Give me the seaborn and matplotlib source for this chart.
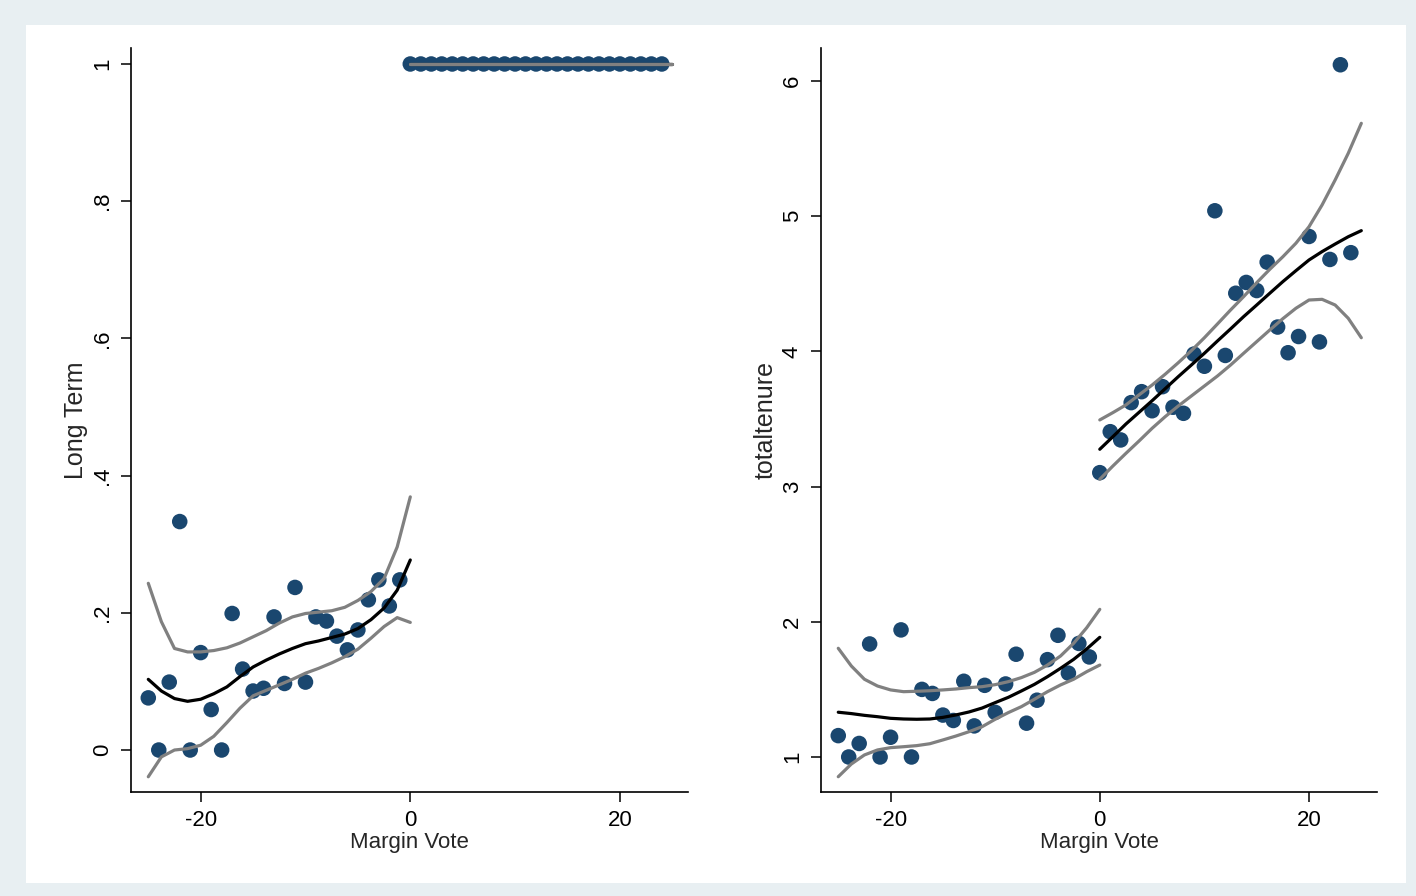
import matplotlib

matplotlib.use("Agg")
import matplotlib.pyplot as plt
import pandas as pd
import seaborn as sns
from matplotlib.patches import Rectangle

# --- data ------------------------------------------------------------------
margin_left = list(range(-25, 0))
margin_right = list(range(0, 25))

long_term_left = [0.076, 0.0, 0.099, 0.333, 0.0, 0.142, 0.059, 0.0, 0.199, 0.118,
                  0.086, 0.090, 0.194, 0.097, 0.237, 0.099, 0.194, 0.188, 0.166, 0.146,
                  0.175, 0.219, 0.248, 0.210, 0.248]
long_term_right = [1.0] * 25

tenure_left = [1.158, 1.0, 1.10, 1.836, 1.0, 1.146, 1.94, 1.0, 1.50, 1.47,
               1.31, 1.27, 1.56, 1.23, 1.53, 1.33, 1.54, 1.76, 1.25, 1.42,
               1.72, 1.90, 1.62, 1.84, 1.74]
tenure_right = [3.103, 3.406, 3.345, 3.621, 3.702, 3.561, 3.739, 3.587, 3.542, 3.98,
                3.89, 5.04, 3.97, 4.43, 4.51, 4.45, 4.66, 4.18, 3.99, 4.11,
                4.85, 4.07, 4.68, 6.12, 4.73]

# fitted curves and confidence bounds
fit_x_left = [-25, -23.75, -22.5, -21.25, -20, -18.75, -17.5, -16.25, -15, -13.75, -12.5,
              -11.25, -10, -8.75, -7.5, -6.25, -5, -3.75, -2.5, -1.25, 0]
fit_x_right = [0, 1.25, 2.5, 3.75, 5, 6.25, 7.5, 8.75, 10, 11.25, 12.5,
               13.75, 15, 16.25, 17.5, 18.75, 20, 21.25, 22.5, 23.75, 25]

lt_fit_left = [0.103, 0.086, 0.075, 0.071, 0.074, 0.082, 0.092, 0.107, 0.121, 0.131, 0.140,
               0.148, 0.155, 0.159, 0.164, 0.169, 0.177, 0.190, 0.207, 0.233, 0.277]
lt_hi_left = [0.243, 0.187, 0.148, 0.143, 0.143, 0.145, 0.149, 0.156, 0.165, 0.174, 0.185,
              0.194, 0.199, 0.201, 0.203, 0.208, 0.218, 0.231, 0.250, 0.296, 0.369]
lt_lo_left = [-0.039, -0.010, 0.000, 0.002, 0.007, 0.020, 0.040, 0.061, 0.079, 0.087, 0.095,
              0.103, 0.112, 0.119, 0.127, 0.136, 0.147, 0.163, 0.180, 0.193, 0.186]
lt_x_right = [0, 25]
lt_fit_right = [1.0, 1.0]

tn_fit_left = [1.331, 1.321, 1.308, 1.298, 1.286, 1.281, 1.279, 1.281, 1.293, 1.311, 1.333,
               1.362, 1.402, 1.441, 1.488, 1.537, 1.594, 1.656, 1.722, 1.799, 1.885]
tn_hi_left = [1.804, 1.673, 1.575, 1.525, 1.496, 1.483, 1.486, 1.490, 1.496, 1.503, 1.513,
              1.520, 1.535, 1.557, 1.587, 1.626, 1.680, 1.747, 1.841, 1.956, 2.092]
tn_lo_left = [0.854, 0.948, 1.015, 1.052, 1.069, 1.076, 1.084, 1.098, 1.126, 1.155, 1.187,
              1.224, 1.279, 1.328, 1.372, 1.427, 1.483, 1.533, 1.575, 1.631, 1.680]
tn_fit_right = [3.276, 3.369, 3.463, 3.549, 3.635, 3.724, 3.813, 3.899, 3.986, 4.077, 4.166,
                4.257, 4.343, 4.430, 4.516, 4.597, 4.676, 4.738, 4.794, 4.848, 4.893]
tn_hi_right = [3.493, 3.547, 3.604, 3.678, 3.751, 3.831, 3.916, 4.005, 4.101, 4.203, 4.306,
               4.405, 4.508, 4.607, 4.700, 4.800, 4.922, 5.083, 5.268, 5.465, 5.687]
tn_lo_right = [3.054, 3.152, 3.246, 3.337, 3.431, 3.517, 3.596, 3.670, 3.744, 3.818, 3.899,
               3.986, 4.072, 4.158, 4.242, 4.319, 4.380, 4.385, 4.343, 4.245, 4.101]

lt_ticks = [0, 0.2, 0.4, 0.6, 0.8, 1.0]
lt_ticklabels = ["0", ".2", ".4", ".6", ".8", "1"]
tn_ticks = [1, 2, 3, 4, 5, 6]
x_ticks = [-20, 0, 20]

# --- styling -----------------------------------------------------------------
sns.set_style("ticks")
plt.rcParams["font.family"] = ["Liberation Sans", "DejaVu Sans"]
plt.rcParams["font.size"] = 16

DOT = "#1a476f"
GREY = "#808080"
BG = "#e8eff2"

fig = plt.figure(figsize=(14.16, 8.96), dpi=100)
fig.patch.set_facecolor(BG)
fig.add_artist(Rectangle((26 / 1416, 1 - 883 / 896), 1380 / 1416, 858 / 896,
                         transform=fig.transFigure, facecolor="white",
                         edgecolor="none", zorder=0))

ax1 = fig.add_axes([131 / 1416, 1 - 792 / 896, 557 / 1416, 744 / 896])
ax2 = fig.add_axes([821 / 1416, 1 - 792 / 896, 556 / 1416, 744 / 896])


def draw_panel(ax, xl, yl, xr, yr, xfl, fl, hl, ll, xfr, fr, hr, lr):
    pts = pd.DataFrame({"x": list(xl) + list(xr), "y": list(yl) + list(yr)})
    sns.scatterplot(data=pts, x="x", y="y", ax=ax, color=DOT, s=125,
                    edgecolor="none", zorder=3)
    for xs, f, h, l in ((xfl, fl, hl, ll), (xfr, fr, hr, lr)):
        sns.lineplot(x=xs, y=f, ax=ax, color="black", lw=2.3, sort=False,
                     estimator=None, zorder=4)
        sns.lineplot(x=xs, y=h, ax=ax, color=GREY, lw=2.3, sort=False,
                     estimator=None, zorder=5)
        sns.lineplot(x=xs, y=l, ax=ax, color=GREY, lw=2.3, sort=False,
                     estimator=None, zorder=5)
    ax.set_facecolor("none")
    ax.set_xlim(-26.65, 26.5)
    ax.set_xticks(x_ticks)
    ax.set_xticklabels([str(t) for t in x_ticks])
    ax.set_xlabel("Margin Vote", fontsize=16, labelpad=1)
    sns.despine(ax=ax)
    for sp in ("left", "bottom"):
        ax.spines[sp].set_linewidth(1.2)
        ax.spines[sp].set_color("black")
    ax.tick_params(axis="both", length=7, width=1.1, color="black",
                   labelsize=16, labelcolor="black", pad=6)


draw_panel(ax1, margin_left, long_term_left, margin_right, long_term_right,
           fit_x_left, lt_fit_left, lt_hi_left, lt_lo_left,
           lt_x_right, lt_fit_right, lt_fit_right, lt_fit_right)
ax1.set_ylim(-0.0612, 1.0233)
ax1.set_yticks(lt_ticks)
ax1.set_yticklabels(lt_ticklabels, rotation=90, va="center")
ax1.set_ylabel("Long Term", fontsize=18, labelpad=3)

draw_panel(ax2, margin_left, tenure_left, margin_right, tenure_right,
           fit_x_left, tn_fit_left, tn_hi_left, tn_lo_left,
           fit_x_right, tn_fit_right, tn_hi_right, tn_lo_right)
ax2.set_ylim(0.741, 6.244)
ax2.set_yticks(tn_ticks)
ax2.set_yticklabels([str(t) for t in tn_ticks], rotation=90, va="center")
ax2.set_ylabel("totaltenure", fontsize=18, labelpad=3)

fig.savefig("out.png", dpi=100, facecolor=fig.get_facecolor())
